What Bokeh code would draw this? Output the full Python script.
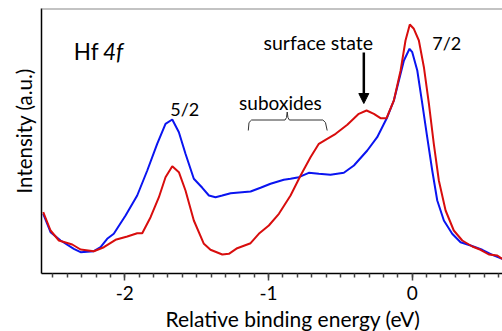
from bokeh.plotting import figure
from bokeh.models import (Range1d, Label, Span, Arrow, NormalHead, Title,
                          SingleIntervalTicker)
from bokeh.embed import file_html
from bokeh.resources import INLINE

# ---- data ----
energy_blue = [-2.568, -2.517, -2.447, -2.355, -2.308, -2.216, -2.169, -2.123, -2.077,
               -1.995, -1.914, -1.844, -1.775, -1.717, -1.670, -1.624, -1.578, -1.520,
               -1.461, -1.415, -1.369, -1.322, -1.264, -1.125, -1.056, -0.986, -0.894,
               -0.847, -0.789, -0.720, -0.650, -0.569, -0.476, -0.406, -0.313, -0.244,
               -0.174, -0.128, -0.093, -0.058, -0.019, 0.000, 0.035, 0.070, 0.104,
               0.139, 0.174, 0.220, 0.278, 0.336, 0.406, 0.487, 0.557, 0.626]
intensity_blue = [59.7, 41.3, 33.0, 24.7, 21.3, 22.3, 26.3, 34.7, 39.7,
                  58.0, 78.0, 103.0, 129.7, 149.7, 154.0, 141.3, 119.7, 94.7,
                  85.7, 78.0, 76.3, 78.0, 80.3, 82.0, 85.7, 89.7, 93.7,
                  94.7, 96.3, 100.7, 99.7, 98.7, 100.7, 108.0, 123.0, 136.3,
                  156.3, 173.0, 193.0, 213.0, 224.7, 221.3, 203.0, 169.7, 136.3,
                  103.0, 73.0, 53.0, 39.7, 31.3, 28.0, 23.7, 18.7, 14.7]

energy_red = [-2.568, -2.517, -2.459, -2.366, -2.308, -2.216, -2.146, -2.065, -1.983,
              -1.914, -1.879, -1.821, -1.763, -1.717, -1.670, -1.624, -1.578, -1.520,
              -1.450, -1.404, -1.322, -1.276, -1.218, -1.125, -1.068, -0.998, -0.928,
              -0.847, -0.777, -0.708, -0.650, -0.592, -0.533, -0.452, -0.372, -0.318,
              -0.267, -0.221, -0.179, -0.128, -0.081, -0.047, -0.017, 0.011, 0.046,
              0.081, 0.116, 0.150, 0.185, 0.232, 0.289, 0.348, 0.418, 0.475, 0.533,
              0.592, 0.626]
intensity_red = [61.3, 43.0, 33.0, 29.0, 24.0, 22.3, 26.3, 33.7, 37.0,
                 40.3, 40.3, 56.3, 76.3, 96.3, 107.3, 101.3, 83.0, 53.0,
                 29.7, 23.7, 19.0, 19.7, 25.3, 30.3, 39.7, 48.0, 59.7,
                 78.0, 98.0, 116.3, 129.7, 134.7, 139.7, 148.7, 159.7, 163.0,
                 159.7, 155.3, 155.3, 173.0, 203.0, 233.0, 249.0, 244.7, 233.0,
                 206.3, 169.7, 129.7, 93.0, 63.0, 43.0, 33.0, 27.0, 23.7, 19.0,
                 18.0, 14.7]

tick_values = [-2, -1, 0]
tick_labels = ["-2", "-1", "0"]

FONT = "Lato"
TXT = "19.5px"

p = figure(width=502, height=331, output_backend="svg", toolbar_location=None,
           x_range=Range1d(-2.58, 0.628), y_range=Range1d(0, 265),
           min_border_left=41, min_border_top=8, min_border_right=0,
           min_border_bottom=58)
p.outline_line_color = None
p.grid.visible = False
p.background_fill_color = "white"
p.border_fill_color = "white"

p.line(energy_blue, intensity_blue, line_color="#0a14f0", line_width=2)
p.line(energy_red, intensity_red, line_color="#d80d0d", line_width=2)

# x axis
xa = p.xaxis[0]
xa.ticker = SingleIntervalTicker(interval=1, num_minor_ticks=10)
xa.major_label_overrides = {v: t for v, t in zip(tick_values, tick_labels)}
xa.axis_line_color = "black"
xa.axis_line_width = 1.5
xa.major_tick_line_color = "#444444"
xa.minor_tick_line_color = "#444444"
xa.major_tick_line_width = 1.5
xa.minor_tick_line_width = 1.5
xa.major_tick_in = 0
xa.major_tick_out = 7
xa.minor_tick_in = 0
xa.minor_tick_out = 4
xa.major_label_text_font = FONT
xa.major_label_text_font_size = "19px"
xa.major_label_text_color = "black"
xa.major_label_standoff = 5

# y axis (line only)
ya = p.yaxis[0]
ya.ticker = []
ya.axis_line_color = "black"
ya.axis_line_width = 1.5
ya.major_tick_line_color = None
ya.minor_tick_line_color = None
ya.major_label_text_font_size = "0px"

# axis titles
p.add_layout(Title(text="Intensity (a.u.)", align="left", offset=80, standoff=11,
                   text_font=FONT, text_font_size="20.5px", text_font_style="normal",
                   text_color="black"), "left")
p.add_layout(Title(text="Relative binding energy (eV)", align="left", offset=124,
                   standoff=2, text_font=FONT, text_font_size="21px",
                   text_font_style="normal", text_color="black"), "below")

# top frame line
p.add_layout(Span(location=265, dimension="width", line_color="#888888", line_width=2))

def lab(x, y, text, size=TXT, align="center", style="normal"):
    p.add_layout(Label(x=x, y=y, text=text, text_font=FONT, text_font_size=size,
                       text_align=align, text_baseline="alphabetic",
                       text_font_style=style, text_color="black"))

lab(-2.355, 222, "Hf", size="22.5px", align="left")
lab(-2.152, 222, "4f", size="22.5px", align="left", style="italic")
lab(-1.583, 165, "5/2", size="18px")
lab(-0.917, 171, "suboxides", size="19px")
lab(-0.654, 231, "surface state")
lab(0.240, 231, "7/2", size="18px")

# arrow to the surface state
p.add_layout(Arrow(x_start=-0.337, y_start=221, x_end=-0.337, y_end=170,
                   line_color="black", line_width=2.5,
                   end=NormalHead(size=10, fill_color="black", line_color="black")))

# curly bracket for suboxides
bx = [-1.141, -1.136, -1.118, -0.885, -0.875, -0.870, -0.865, -0.855, -0.622, -0.604, -0.592]
by = [143, 151, 153.5, 153.5, 156, 161.5, 156, 153.5, 153.5, 151, 143]
p.line(bx, by, line_color="#333333", line_width=1)

open("out.html", "w").write(file_html(p, INLINE))
